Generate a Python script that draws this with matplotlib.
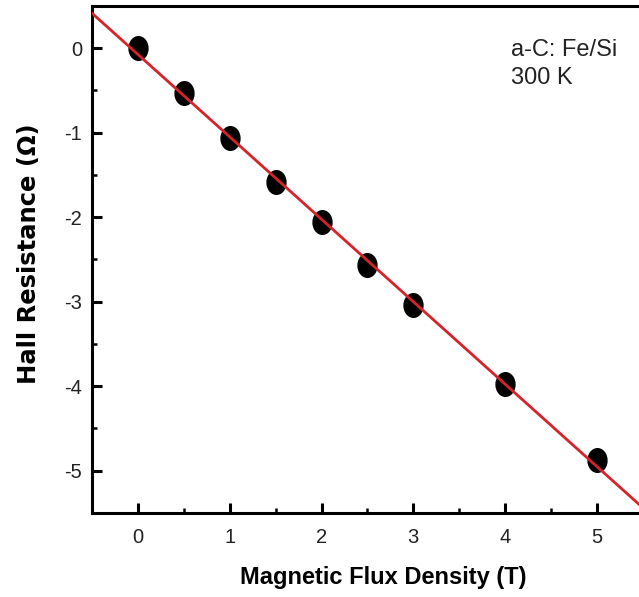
import numpy as np
import matplotlib
matplotlib.use("Agg")
import matplotlib.pyplot as plt
from matplotlib.path import Path
from matplotlib.transforms import Affine2D
from matplotlib.ticker import MultipleLocator

plt.rcParams['font.family'] = ['Liberation Sans', 'DejaVu Sans']
plt.rcParams['axes.unicode_minus'] = False

# Hall resistance vs field
field = [0, 0.5, 1, 1.5, 2, 2.5, 3, 4, 5]
hall_r = [0.0, -0.53, -1.06, -1.58, -2.06, -2.57, -3.04, -3.97, -4.88]
x_ticks = [0, 1, 2, 3, 4, 5]
y_ticks = [0, -1, -2, -3, -4, -5]

fig = plt.figure(figsize=(6.39, 5.97), dpi=100)
ax = fig.add_axes([0.144, 0.141, 0.862, 0.849])

# slightly tall elliptical marker
ellipse = Path.unit_circle().transformed(Affine2D().scale(0.8, 1.0))

ax.plot(field, hall_r, linestyle='none', marker=ellipse, markersize=17,
        color='black', zorder=2)

slope, intercept = np.polyfit(field, hall_r, 1)
xx = np.array([-0.5, 5.5])
ax.plot(xx, slope * xx + intercept, color='#d7222a', linewidth=2, zorder=3)

ax.set_xlim(-0.5, 5.5)
ax.set_ylim(-5.5, 0.5)
ax.set_xticks(x_ticks)
ax.set_yticks(y_ticks)
ax.xaxis.set_minor_locator(MultipleLocator(0.5))
ax.yaxis.set_minor_locator(MultipleLocator(0.5))
ax.tick_params(which='major', direction='in', length=7.2, width=2.2,
               colors='black', labelcolor='#222222', labelsize=14.5)
ax.tick_params(which='minor', direction='in', length=3.6, width=1.8)
ax.tick_params(axis='x', which='major', pad=11)
ax.tick_params(axis='y', which='major', pad=7)
for s in ax.spines.values():
    s.set_linewidth(2.2)

ax.set_xlabel('Magnetic Flux Density (T)', fontsize=17, fontweight='bold')
ax.xaxis.set_label_coords(0.528, -0.105)
ax.set_ylabel('Hall Resistance (\u03a9)', fontsize=17.5, fontweight='bold',
              family=['DejaVu Sans'])
ax.yaxis.set_label_coords(-0.093, 0.512)

ax.text(0.761, 0.935, 'a-C: Fe/Si\n300 K', transform=ax.transAxes, fontsize=17,
        va='top', ha='left', linespacing=1.38, color='#222222')

fig.savefig('out.png', dpi=100)
